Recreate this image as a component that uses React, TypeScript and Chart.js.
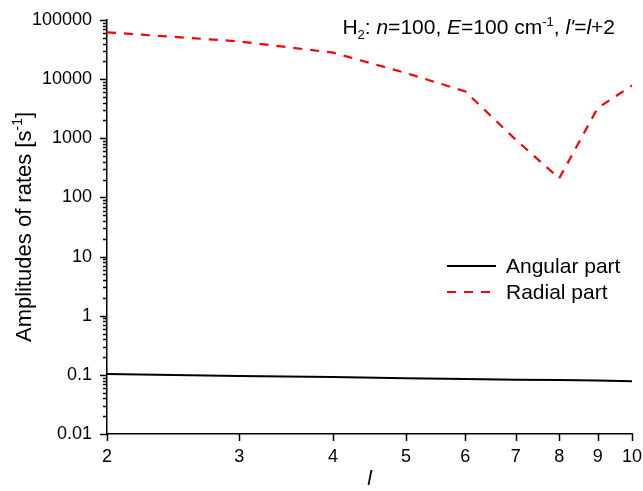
import React, { useEffect, useRef } from 'react';
import { Chart, registerables } from 'chart.js';

Chart.register(...registerables);

const lValues = [2, 3, 4, 5, 6, 7, 8, 9, 10];
const angularRates = [0.103, 0.0957, 0.0916, 0.0877, 0.0852, 0.0828, 0.0815, 0.0804, 0.078];
const radialRates = [62000, 43500, 28000, 12700, 6200, 950, 210, 3240, 7800];
const xTicks = [2, 3, 4, 5, 6, 7, 8, 9, 10];
const xTickLabels = ['2', '3', '4', '5', '6', '7', '8', '9', '10'];
const yMajorTicks = [0.01, 0.1, 1, 10, 100, 1000, 10000, 100000];
const yTickLabels = ['0.01', '0.1', '1', '10', '100', '1000', '10000', '100000'];
const seriesNames = ['Angular part', 'Radial part'];

const FONT = '"Liberation Sans", Arial, Helvetica, sans-serif';

type Run = { t: string; it?: boolean; sup?: boolean; sub?: boolean };

function runFont(r: Run, size: number) {
  const s = r.sup || r.sub ? Math.round(size * 0.62) : size;
  return `${r.it ? 'italic ' : ''}${s}px ${FONT}`;
}

function runsWidth(ctx: CanvasRenderingContext2D, runs: Run[], size: number) {
  let w = 0;
  for (const r of runs) {
    ctx.font = runFont(r, size);
    w += ctx.measureText(r.t).width;
  }
  return w;
}

function drawRuns(ctx: CanvasRenderingContext2D, runs: Run[], x: number, y: number, size: number) {
  let cx = x;
  ctx.textBaseline = 'alphabetic';
  ctx.textAlign = 'left';
  for (const r of runs) {
    ctx.font = runFont(r, size);
    const dy = r.sup ? -size * 0.4 : r.sub ? size * 0.22 : 0;
    ctx.fillText(r.t, cx, y + dy);
    cx += ctx.measureText(r.t).width;
  }
}

const titleRuns: Run[] = [
  { t: 'H' }, { t: '2', sub: true }, { t: ': ' }, { t: 'n', it: true }, { t: '=100, ' },
  { t: 'E', it: true }, { t: '=100 cm' }, { t: '-1', sup: true }, { t: ', ' },
  { t: 'l\'', it: true }, { t: '=' }, { t: 'l', it: true }, { t: '+2' },
];
const yTitleRuns: Run[] = [{ t: 'Amplitudes of rates [s' }, { t: '-1', sup: true }, { t: ']' }];

const decorPlugin = {
  id: 'decor',
  afterDraw(chart: any) {
    const { ctx, chartArea, scales } = chart;
    const xs = scales.x;
    const ys = scales.y;
    ctx.save();
    ctx.strokeStyle = '#000';
    ctx.lineWidth = 1.5;
    ctx.beginPath();
    for (let i = 0; i < yMajorTicks.length; i++) {
      const v = yMajorTicks[i];
      const py = Math.round(ys.getPixelForValue(v)) + 0.5;
      ctx.moveTo(chartArea.left - 7, py);
      ctx.lineTo(chartArea.left, py);
      if (i < yMajorTicks.length - 1) {
        for (let m = 2; m <= 9; m++) {
          const pm = Math.round(ys.getPixelForValue(v * m)) + 0.5;
          ctx.moveTo(chartArea.left - 4, pm);
          ctx.lineTo(chartArea.left, pm);
        }
      }
    }
    for (const v of xTicks) {
      const px = Math.round(xs.getPixelForValue(v)) + 0.5;
      ctx.moveTo(px, chartArea.bottom);
      ctx.lineTo(px, chartArea.bottom + 7);
    }
    ctx.stroke();

    ctx.fillStyle = '#000';
    const tSize = 21;
    const tw = runsWidth(ctx, titleRuns, tSize);
    drawRuns(ctx, titleRuns, 615 - tw, 34, tSize);

    const ySize = 22;
    const yw = runsWidth(ctx, yTitleRuns, ySize);
    ctx.save();
    ctx.translate(31, (chartArea.top + chartArea.bottom) / 2);
    ctx.rotate(-Math.PI / 2);
    drawRuns(ctx, yTitleRuns, -yw / 2, 0, ySize);
    ctx.restore();

    ctx.font = `italic 21px ${FONT}`;
    ctx.textAlign = 'center';
    ctx.textBaseline = 'alphabetic';
    ctx.fillText('l', (chartArea.left + chartArea.right) / 2, 485);

    const ds = chart.data.datasets;
    const rows = [266, 292];
    for (let i = 0; i < ds.length; i++) {
      ctx.beginPath();
      ctx.strokeStyle = ds[i].borderColor;
      ctx.lineWidth = 2;
      ctx.setLineDash(ds[i].borderDash || []);
      ctx.moveTo(447, rows[i]);
      ctx.lineTo(496, rows[i]);
      ctx.stroke();
      ctx.setLineDash([]);
      ctx.fillStyle = '#000';
      ctx.font = `21px ${FONT}`;
      ctx.textAlign = 'left';
      ctx.textBaseline = 'middle';
      ctx.fillText(seriesNames[i], 506, rows[i] + 1);
    }
    ctx.restore();
  },
};

export default function App() {
  const ref = useRef<HTMLCanvasElement | null>(null);
  useEffect(() => {
    document.body.style.margin = '0';
    const canvas = ref.current!;
    const chart = new Chart(canvas, {
      type: 'line',
      data: {
        datasets: [
          {
            label: seriesNames[0],
            data: lValues.map((l, i) => ({ x: l, y: angularRates[i] })),
            borderColor: '#000000',
            borderWidth: 2,
            pointRadius: 0,
            tension: 0,
          },
          {
            label: seriesNames[1],
            data: lValues.map((l, i) => ({ x: l, y: radialRates[i] })),
            borderColor: '#ff0000',
            borderWidth: 2.2,
            borderDash: [9, 8],
            pointRadius: 0,
            tension: 0,
          },
        ],
      },
      options: {
        responsive: false,
        animation: false,
        devicePixelRatio: 1,
        layout: { padding: { top: 20, right: 11, left: 0, bottom: 0 } },
        plugins: { legend: { display: false }, tooltip: { enabled: false } },
        scales: {
          x: {
            type: 'logarithmic',
            min: 2,
            max: 10,
            grid: { display: false, drawTicks: false, tickLength: 0 },
            border: { display: true, color: '#000', width: 1.5 },
            afterBuildTicks: (s: any) => { s.ticks = xTicks.map((v) => ({ value: v })); },
            afterFit: (s: any) => {
              s.height = 57;
              s.paddingLeft = 0;
              s.paddingRight = 0;
            },
            ticks: {
              autoSkip: false,
              maxRotation: 0,
              padding: 12,
              color: '#000',
              font: { family: FONT, size: 18 },
              callback: (_v: any, i: number) => xTickLabels[i],
            },
          },
          y: {
            type: 'logarithmic',
            min: 0.01,
            max: 100000,
            grid: { display: false, drawTicks: false, tickLength: 0 },
            border: { display: true, color: '#000', width: 1.5 },
            afterBuildTicks: (s: any) => { s.ticks = yMajorTicks.map((v) => ({ value: v })); },
            afterFit: (s: any) => {
              s.width = 107;
              s.paddingTop = 0;
              s.paddingBottom = 0;
            },
            ticks: {
              autoSkip: false,
              padding: 15,
              color: '#000',
              font: { family: FONT, size: 18 },
              callback: (_v: any, i: number) => yTickLabels[i],
            },
          },
        },
      },
      plugins: [decorPlugin],
    });
    return () => chart.destroy();
  }, []);
  return <canvas ref={ref} width={643} height={491} style={{ display: 'block' }} />;
}
